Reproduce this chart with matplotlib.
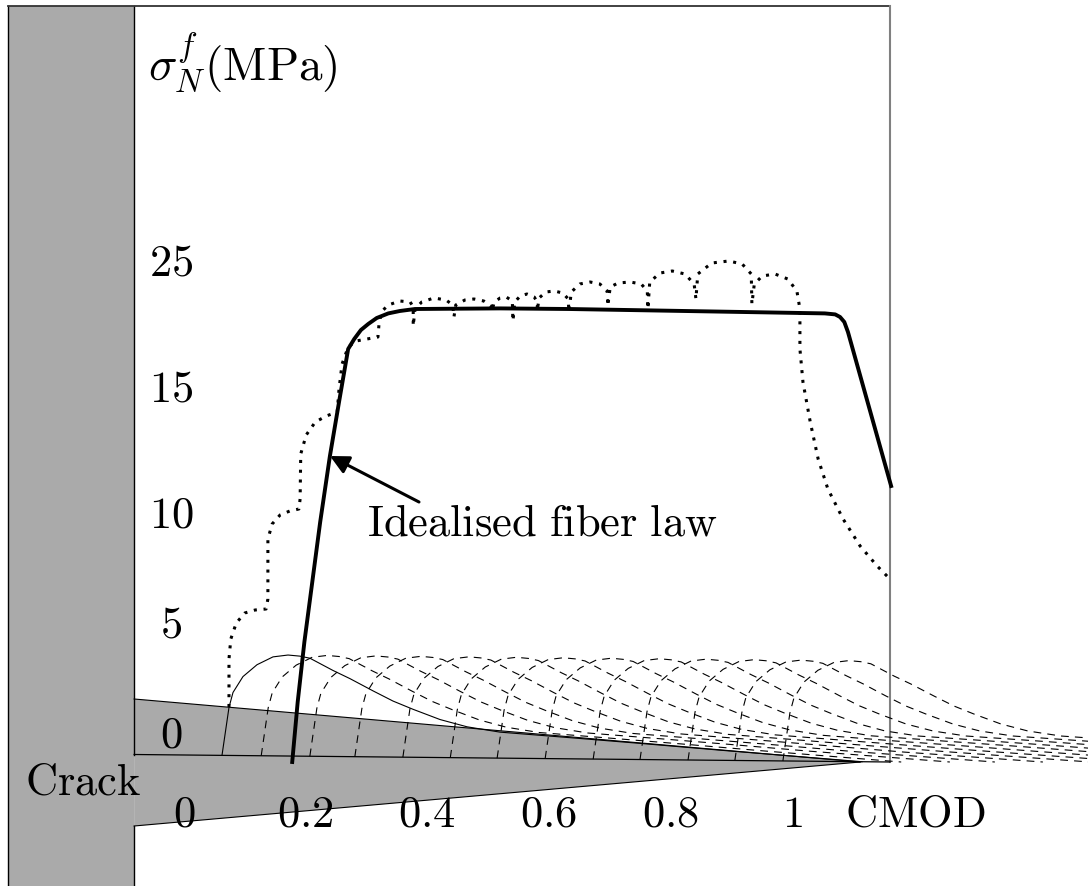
import numpy as np
import matplotlib
matplotlib.use("Agg")
import matplotlib.pyplot as plt

plt.rcParams['mathtext.fontset'] = 'cm'

# idealised fiber law (CMOD in mm, stress in MPa)
law_x = [0.178, 0.187, 0.198, 0.211, 0.224, 0.240, 0.255, 0.270, 0.280, 0.291,
         0.303, 0.317, 0.336, 0.355, 0.380, 0.520, 0.633, 0.824, 1.054, 1.071,
         1.079, 1.086, 1.092, 1.163]
law_y = [-0.30, 2.70, 5.70, 8.70, 11.70, 15.00, 17.70, 20.35, 20.85, 21.30,
         21.60, 21.90, 22.13, 22.25, 22.35, 22.38, 22.35, 22.25, 22.13, 22.08,
         21.95, 21.70, 21.20, 13.50]

# summed response (dotted)
dot_x = [0.074, 0.074, 0.077, 0.086, 0.100, 0.117, 0.135, 0.138, 0.138, 0.145,
         0.158, 0.174, 0.189, 0.191, 0.192, 0.201, 0.216, 0.234, 0.252, 0.255,
         0.260, 0.270, 0.283, 0.301, 0.319, 0.321, 0.326, 0.336, 0.355, 0.372,
         0.377, 0.377,
         0.380, 0.391, 0.411, 0.431, 0.442, 0.444,
         0.447, 0.462, 0.477, 0.493, 0.505, 0.507,
         0.510, 0.520, 0.530, 0.540, 0.541,
         0.544, 0.553, 0.564, 0.576, 0.581, 0.581,
         0.584, 0.595, 0.609, 0.623, 0.632, 0.633,
         0.637, 0.651, 0.668, 0.684, 0.696, 0.697,
         0.701, 0.714, 0.734, 0.752, 0.762, 0.763,
         0.766, 0.783, 0.803, 0.824, 0.839, 0.842,
         0.845, 0.868, 0.896, 0.918, 0.933, 0.934,
         0.938, 0.951, 0.972, 0.993, 1.008, 1.013,
         1.013, 1.018, 1.030, 1.043, 1.059, 1.084, 1.112, 1.140, 1.161]
dot_y = [2.45, 4.85, 5.85, 6.65, 7.15, 7.30, 7.35, 7.85, 10.85, 11.60,
         12.05, 12.25, 12.35, 12.85, 15.10, 16.05, 16.70, 17.00, 17.20, 18.35,
         19.60, 20.45, 20.75, 20.85, 20.95, 21.70, 22.25, 22.55, 22.75, 22.70,
         22.45, 21.50,
         22.35, 22.70, 22.90, 22.80, 22.55, 21.95,
         22.55, 22.80, 22.85, 22.75, 22.50, 22.25,
         22.70, 22.90, 22.95, 22.75, 21.75,
         22.70, 23.00, 23.10, 22.95, 22.70, 22.25,
         22.90, 23.20, 23.25, 23.15, 22.85, 22.20,
         23.20, 23.60, 23.70, 23.60, 23.25, 22.50,
         23.45, 23.65, 23.70, 23.60, 23.25, 22.35,
         23.70, 24.15, 24.25, 24.10, 23.60, 22.85,
         24.10, 24.65, 24.75, 24.60, 24.10, 22.60,
         23.60, 24.00, 24.10, 23.85, 23.25, 22.35,
         20.35, 18.70, 16.70, 14.85, 13.35, 11.85, 10.50, 9.50, 8.85]

# single fiber pull-out curve, relative to its onset
shape_dx = [0, 0.0115, 0.0181, 0.0345, 0.0576, 0.0839, 0.1086, 0.1283, 0.1447,
            0.1826, 0.2105, 0.2484, 0.2813, 0.3141, 0.3586, 0.4030, 0.4572,
            0.5757, 0.6908, 0.8224, 1.0526]
shape_dy = [0, 2.40, 3.15, 3.95, 4.55, 4.95, 5.05, 5.00, 4.90, 4.30, 3.90,
            3.30, 2.80, 2.40, 1.90, 1.55, 1.30, 1.05, 0.80, 0.50, 0.0]
first_onset = 0.0625
dashed_onsets = [0.127, 0.207, 0.281, 0.360, 0.438, 0.515, 0.594, 0.673,
                 0.750, 0.829, 0.906, 0.985]

# crack surface line and wedge
base_x = [-0.082, 1.161]
base_y = [0.075, -0.30]
wedge_x = [-0.082, 1.112, -0.082]
wedge_y = [2.85, -0.30, -3.50]
wall_x = [-0.2895, -0.082]
top_y = 37.5

xtick_vals = [0, 0.2, 0.4, 0.6, 0.8, 1]
xtick_labels = ['0', '0.2', '0.4', '0.6', '0.8', '1']
ytick_labels = ['0', '5', '10', '15', '25']
ytick_pos = [0.45, 5.95, 11.5, 17.8, 24.1]

gray = '#aaaaaa'
fs = 32

fig = plt.figure(figsize=(10.88, 8.87), dpi=100)
ax = fig.add_axes([0, 0, 1, 1])
ax.set_xlim(-0.3026, 1.4868)
ax.set_ylim(-6.5, 37.85)
ax.axis('off')

# wall and wedge
ax.fill_between(wall_x, -6.5, top_y, color=gray, lw=0, zorder=1)
ax.fill(wedge_x, wedge_y, color=gray, lw=0, zorder=1)
ax.plot(wedge_x[:2], wedge_y[:2], color='k', lw=0.8, zorder=2)
ax.plot(wedge_x[1:], wedge_y[1:], color='k', lw=0.8, zorder=2)
ax.plot([wall_x[0], wall_x[0]], [-6.5, top_y], color='k', lw=1.0, zorder=2)
ax.plot([wall_x[1], wall_x[1]], [top_y, base_y[0]], color='k', lw=1.0, zorder=2)
ax.plot([wall_x[1], wall_x[1]], [wedge_y[2], -6.5], color='k', lw=1.0, zorder=2)

# frame
ax.plot([wall_x[0], base_x[1]], [top_y, top_y], color='#333333', lw=1.3, zorder=2)
ax.plot([base_x[1], base_x[1]], [top_y, base_y[1]], color='#808080', lw=1.5, zorder=2)
ax.plot(base_x, base_y, color='k', lw=0.9, zorder=2)

# fiber curves
sdx = np.array(shape_dx)
sdy = np.array(shape_dy)
x1 = first_onset + sdx
ax.plot(x1, np.interp(x1, base_x, base_y) + sdy, color='k', lw=0.8, zorder=3)
for x0 in dashed_onsets:
    xs = x0 + sdx
    ax.plot(xs, np.interp(xs, base_x, base_y) + sdy, color='k', lw=0.8,
            dashes=(7, 5.5), zorder=3)

ax.plot(dot_x, dot_y, color='k', lw=2.2, dashes=(1.0, 2.2),
        solid_capstyle='butt', dash_capstyle='butt', zorder=4)
ax.plot(law_x, law_y, color='k', lw=2.8, solid_joinstyle='round', zorder=5)

# labels
ax.text(-0.0592, 33.85, r'$\sigma_N^f(\mathrm{MPa})$', fontsize=34,
        ha='left', va='baseline', zorder=6)
ax.text(-0.2615, -1.9, r'$\mathrm{Crack}$', fontsize=fs, ha='left',
        va='baseline', zorder=6)
for v, lab in zip(xtick_vals, xtick_labels):
    ax.text(v, -3.5, '$' + lab + '$', fontsize=fs, ha='center',
            va='baseline', zorder=6)
ax.text(1.2023, -3.5, r'$\mathrm{CMOD}$', fontsize=fs, ha='center',
        va='baseline', zorder=6)
for p, lab in zip(ytick_pos, ytick_labels):
    ax.text(-0.0214, p, '$' + lab + '$', fontsize=fs, ha='center',
            va='baseline', zorder=6)

ax.text(0.301, 11.1, r'$\mathrm{Idealised\ fiber\ law}$', fontsize=fs,
        ha='left', va='baseline', zorder=6)
ax.annotate('', xy=(0.2401, 15.0), xytext=(0.3865, 12.7),
            arrowprops=dict(arrowstyle='-|>', color='k', lw=2.2,
                            mutation_scale=28, shrinkA=0, shrinkB=0),
            zorder=6)

fig.savefig('out.png', dpi=100)
